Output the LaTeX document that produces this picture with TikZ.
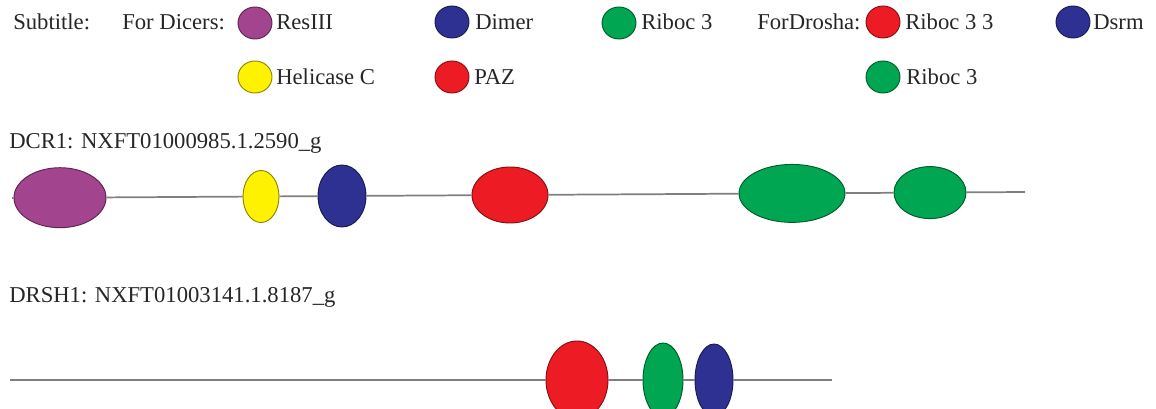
\documentclass[tikz,border=0pt]{standalone}
\usepackage{fontspec}
\setmainfont{Liberation Serif}
\usetikzlibrary{shapes.geometric}
\definecolor{cpurple}{HTML}{A3448E}
\definecolor{cblue}{HTML}{2E3192}
\definecolor{cyellow}{HTML}{FFF200}
\definecolor{cgreen}{HTML}{00A651}
\definecolor{cred}{HTML}{ED1C24}
\definecolor{cline}{HTML}{7F7F7F}
\tikzset{
  dom/.style n args={3}{ellipse, inner sep=0pt, fill=#1, draw=#1!55!black, line width=0.7pt,
    minimum width=#2*0.75pt, minimum height=#3*0.75pt},
  lg/.style={dom={#1}{34}{32}},
  txt/.style={anchor=west, inner sep=0pt, font=\fontsize{17}{20}\selectfont, text=black!85},
  backbone/.style={draw=cline, line width=1.3pt}
}
\begin{document}
\begin{tikzpicture}[x=0.75pt,y=-0.75pt]
\useasboundingbox (0,0) rectangle (1156,409);
% legend
\node[txt] (sub) at (13,22) {Subtitle:};
\node[txt] (fdic) at (122,22) {For Dicers:};
\node[lg=cpurple] (lres) at (255,23) {};
\node[txt] (tres) at (276,22) {ResIII};
\node[lg=cblue] (ldim) at (452,22) {};
\node[txt] (tdim) at (475,22) {Dimer};
\node[lg=cgreen] (lrib) at (619,23) {};
\node[txt] (trib) at (641,22) {Riboc 3};
\node[txt] (fdro) at (757,22) {ForDrosha:};
\node[lg=cred] (lr33) at (883,22) {};
\node[txt] (tr33) at (905,22) {Riboc 3 3};
\node[lg=cblue] (ldsr) at (1073,22) {};
\node[txt] (tdsr) at (1093,22) {Dsrm};
\node[lg=cyellow] (lhel) at (255,77) {};
\node[txt] (thel) at (276,77) {Helicase C};
\node[lg=cred] (lpaz) at (452,77) {};
\node[txt] (tpaz) at (474,77) {PAZ};
\node[lg=cgreen] (lrb3) at (883,77) {};
\node[txt] (trb3) at (906,77) {Riboc 3};
% DCR1
\node[txt] (dcr) at (9,143) {DCR1: NXFT01000985.1.2590\_g};
\coordinate (dL) at (12,198);
\coordinate (dR) at (1025,192);
\node[dom={cpurple}{92}{60}] (d1) at (60,197.7) {};
\node[dom={cyellow}{36}{52}] (d2) at (261,196.5) {};
\node[dom={cblue}{48}{62}] (d3) at (342,196) {};
\node[dom={cred}{76}{56}] (d4) at (510,195) {};
\node[dom={cgreen}{106}{58}] (d5) at (792,193.4) {};
\node[dom={cgreen}{72}{52}] (d6) at (930,192.6) {};
\draw[backbone] (dL) -- (d1) -- (d2) -- (d3) -- (d4) -- (d5) -- (d6) -- (dR);
% DRSH1
\node[txt] (drs) at (9,297) {DRSH1: NXFT01003141.1.8187\_g};
\coordinate (rL) at (10,380);
\coordinate (rR) at (832,380);
\node[dom={cred}{62}{78}] (r1) at (577,380) {};
\node[dom={cgreen}{40}{74}] (r2) at (663,380) {};
\node[dom={cblue}{38}{72}] (r3) at (714,380) {};
\draw[backbone] (rL) -- (r1) -- (r2) -- (r3) -- (rR);
\end{tikzpicture}
\end{document}
